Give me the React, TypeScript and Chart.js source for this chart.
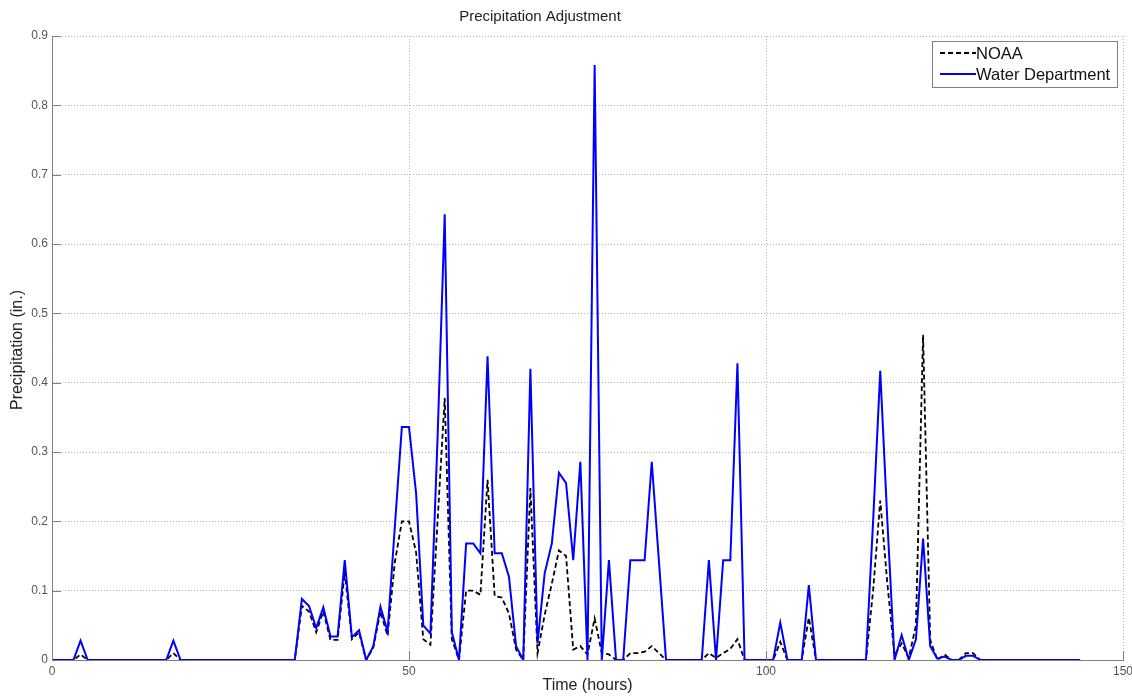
import React, { useEffect, useRef } from "react";
import { Chart, registerables } from "chart.js";

Chart.register(...registerables);

const chartTitle = "Precipitation Adjustment";
const xAxisTitle = "Time (hours)";
const yAxisTitle = "Precipitation (in.)";
const seriesNames = ["NOAA", "Water Department"];

const xTicks = [0, 50, 100, 150];
const yTicks = [0, 0.1, 0.2, 0.3, 0.4, 0.5, 0.6, 0.7, 0.8, 0.9];

// hours 0..144 (hourly samples)
const hours = Array.from({ length: 145 }, (_, i) => i);

const waterDept = [
  0, 0, 0, 0, 0.028, 0, 0, 0, 0, 0,
  0, 0, 0, 0, 0, 0, 0, 0.028, 0, 0,
  0, 0, 0, 0, 0, 0, 0, 0, 0, 0,
  0, 0, 0, 0, 0, 0.088, 0.078, 0.046, 0.076, 0.034,
  0.034, 0.144, 0.033, 0.043, 0, 0.02, 0.077, 0.041, 0.19, 0.336,
  0.336, 0.24, 0.05, 0.038, 0.32, 0.643, 0.04, 0, 0.168, 0.168,
  0.154, 0.438, 0.154, 0.154, 0.12, 0.02, 0, 0.42, 0.024, 0.125,
  0.168, 0.27, 0.255, 0.144, 0.286, 0, 0.858, 0, 0.144, 0,
  0, 0.144, 0.144, 0.144, 0.286, 0.143, 0, 0, 0, 0,
  0, 0, 0.144, 0, 0.144, 0.144, 0.428, 0, 0, 0,
  0, 0, 0.054, 0, 0, 0, 0.108, 0, 0, 0,
  0, 0, 0, 0, 0, 0.2, 0.417, 0.2, 0, 0.036,
  0, 0.03, 0.175, 0.02, 0.002, 0.005, 0, 0, 0.006, 0.006,
  0, 0, 0, 0, 0, 0, 0, 0, 0, 0,
  0, 0, 0, 0, 0,
];

const noaa = [
  0, 0, 0, 0, 0.008, 0, 0, 0, 0, 0,
  0, 0, 0, 0, 0, 0, 0, 0.01, 0, 0,
  0, 0, 0, 0, 0, 0, 0, 0, 0, 0,
  0, 0, 0, 0, 0, 0.078, 0.07, 0.04, 0.07, 0.029,
  0.029, 0.127, 0.03, 0.04, 0, 0.018, 0.07, 0.035, 0.14, 0.2,
  0.2, 0.155, 0.03, 0.022, 0.2, 0.378, 0.03, 0, 0.1, 0.1,
  0.094, 0.26, 0.092, 0.09, 0.067, 0.015, 0, 0.248, 0.01, 0.065,
  0.11, 0.158, 0.15, 0.015, 0.02, 0.008, 0.06, 0.01, 0.008, 0,
  0, 0.01, 0.01, 0.012, 0.02, 0.01, 0, 0, 0, 0,
  0, 0, 0.01, 0.003, 0.01, 0.016, 0.03, 0, 0, 0,
  0, 0, 0.026, 0, 0, 0, 0.061, 0, 0, 0,
  0, 0, 0, 0, 0, 0.1, 0.23, 0.11, 0.007, 0.024,
  0.003, 0.05, 0.469, 0.029, 0, 0.008, 0, 0, 0.01, 0.01,
  0, 0, 0, 0, 0, 0, 0, 0, 0, 0,
  0, 0, 0, 0, 0,
];

const FONT = "'Liberation Sans', Arial, sans-serif";
const BLUE = "#0000ff";
const BLACK = "#000000";

const decorPlugin = {
  id: "decor",
  afterDraw(chart: any) {
    const { ctx, chartArea } = chart;
    const xs = chart.scales.x;
    const ys = chart.scales.y;
    const cx = (chartArea.left + chartArea.right) / 2;
    ctx.save();
    // inward tick marks
    ctx.strokeStyle = "#808080";
    ctx.lineWidth = 1;
    ctx.beginPath();
    xTicks.forEach((t) => {
      const px = Math.round(xs.getPixelForValue(t)) + 0.5;
      ctx.moveTo(px, chartArea.bottom);
      ctx.lineTo(px, chartArea.bottom - 9);
    });
    yTicks.forEach((t) => {
      const py = Math.round(ys.getPixelForValue(t)) + 0.5;
      ctx.moveTo(chartArea.left, py);
      ctx.lineTo(chartArea.left + 9, py);
    });
    ctx.stroke();

    // title
    ctx.fillStyle = "#222";
    ctx.textAlign = "center";
    ctx.textBaseline = "middle";
    ctx.font = `15px ${FONT}`;
    ctx.fillText(chartTitle, 540, 17);
    // x axis title
    ctx.font = `16px ${FONT}`;
    ctx.fillText(xAxisTitle, cx, 686);
    // y axis title
    ctx.save();
    ctx.translate(18, 350);
    ctx.rotate(-Math.PI / 2);
    ctx.fillText(yAxisTitle, 0, 0);
    ctx.restore();

    // legend
    const lx = 932.5, ly = 41.5, lw = 185, lh = 46;
    ctx.fillStyle = "#ffffff";
    ctx.fillRect(lx, ly, lw, lh);
    ctx.strokeStyle = "#808080";
    ctx.lineWidth = 1;
    ctx.strokeRect(lx, ly, lw, lh);
    const rows = [
      { name: seriesNames[0], color: BLACK, dash: [5, 3], y: 53 },
      { name: seriesNames[1], color: BLUE, dash: [], y: 74 },
    ];
    rows.forEach((r) => {
      ctx.beginPath();
      ctx.setLineDash(r.dash);
      ctx.strokeStyle = r.color;
      ctx.lineWidth = 1.8;
      ctx.moveTo(940, r.y);
      ctx.lineTo(976, r.y);
      ctx.stroke();
      ctx.setLineDash([]);
      ctx.fillStyle = "#111";
      ctx.textAlign = "left";
      ctx.textBaseline = "middle";
      ctx.font = `16.5px ${FONT}`;
      ctx.fillText(r.name, 976, r.y + 1);
    });
    ctx.restore();
  },
};

export default function App() {
  const canvasRef = useRef<HTMLCanvasElement | null>(null);

  useEffect(() => {
    if (!canvasRef.current) return;
    const chart = new Chart(canvasRef.current, {
      type: "line",
      data: {
        datasets: [
          {
            label: seriesNames[1],
            data: hours.map((h, i) => ({ x: h, y: waterDept[i] })),
            borderColor: BLUE,
            backgroundColor: BLUE,
            borderWidth: 2,
            pointRadius: 0,
            tension: 0,
            fill: false,
            order: 0,
          },
          {
            label: seriesNames[0],
            data: hours.map((h, i) => ({ x: h, y: noaa[i] })),
            borderColor: BLACK,
            backgroundColor: BLACK,
            borderWidth: 1.8,
            borderDash: [5, 3],
            pointRadius: 0,
            tension: 0,
            fill: false,
            order: 1,
          },
        ],
      },
      options: {
        responsive: false,
        animation: false,
        layout: { padding: { top: 36, right: 9, left: 0, bottom: 0 } },
        plugins: {
          legend: { display: false },
          title: { display: false },
          tooltip: { enabled: false },
        },
        scales: {
          x: {
            type: "linear",
            min: 0,
            max: 150,
            afterFit: (s: any) => {
              s.height = 36;
              s.paddingLeft = 0;
              s.paddingRight = 0;
            },
            afterBuildTicks: (s: any) => {
              s.ticks = xTicks.map((v) => ({ value: v }));
            },
            ticks: {
              padding: 4,
              color: "#555",
              font: { family: FONT, size: 12 },
              maxRotation: 0,
              autoSkip: false,
              callback: (v: any) => String(v),
            },
            grid: { color: "#b8b8b8", lineWidth: 1, drawTicks: false },
            border: { display: true, color: "#808080", width: 1, dash: [1, 2] },
          },
          y: {
            type: "linear",
            min: 0,
            max: 0.9,
            afterFit: (s: any) => {
              s.width = 52;
              s.paddingTop = 0;
              s.paddingBottom = 0;
            },
            afterBuildTicks: (s: any) => {
              s.ticks = yTicks.map((v) => ({ value: v }));
            },
            ticks: {
              padding: 4,
              color: "#555",
              font: { family: FONT, size: 12 },
              autoSkip: false,
              callback: (v: any) => (Number(v) === 0 ? "0" : Number(v).toFixed(1)),
            },
            grid: { color: "#b8b8b8", lineWidth: 1, drawTicks: false },
            border: { display: true, color: "#808080", width: 1, dash: [1, 2] },
          },
        },
      },
      plugins: [decorPlugin],
    });
    return () => chart.destroy();
  }, []);

  return (
    <div style={{ position: "absolute", left: 0, top: 0, width: 1132, height: 696, background: "#fff" }}>
      <canvas ref={canvasRef} width={1132} height={696} style={{ display: "block" }} />
    </div>
  );
}
